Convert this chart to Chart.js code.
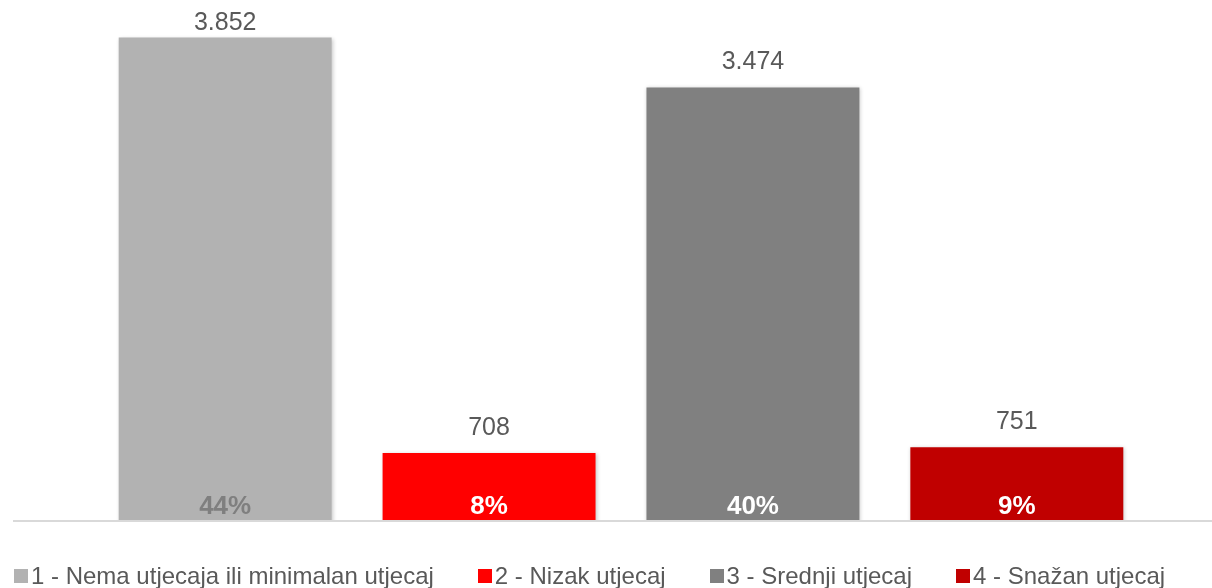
<!DOCTYPE html>
<html>
<head>
<meta charset="utf-8">
<script src="https://cdn.jsdelivr.net/npm/chart.js@4.4.1/dist/chart.umd.min.js"></script>
<style>
    html, body { margin: 0; padding: 0; background: #fff; }
    #wrap { position: relative; width: 1212px; height: 588px; }
    #legend {
        position: absolute; left: 14px; top: 562px;
        display: flex; gap: 44px; align-items: center;
        font-family: 'Liberation Sans', Arial, sans-serif; font-size: 24px; color: #595959;
        white-space: nowrap;
    }
    #legend .item { display: flex; align-items: center; }
    #legend .box { width: 14px; height: 14px; margin-right: 3px; }
</style>
</head>
<body>
<div id="wrap">
    <canvas id="grafico" width="1212" height="588"></canvas>
    <div id="legend"></div>
</div>
<script>
const categories = ['1 - Nema utjecaja ili minimalan utjecaj', '2 - Nizak utjecaj', '3 - Srednji utjecaj', '4 - Snažan utjecaj'];
const counts = [3852, 708, 3474, 751];
const shares = [44, 8, 40, 9];
const barColors = ['#B2B2B2', '#FF0000', '#808080', '#C00000'];
const shareColors = ['#7F7F7F', '#FFFFFF', '#FFFFFF', '#FFFFFF'];

const fmt = (n) => String(n).replace(/\B(?=(\d{3})+(?!\d))/g, '.');

// baseline (axis line) + bar shadows + labels
const barExtras = {
    id: 'barExtras',
    beforeDatasetsDraw(chart) {
        const ctx = chart.ctx;
        ctx.save();
        ctx.shadowColor = 'rgba(0,0,0,0.22)';
        ctx.shadowBlur = 4;
        ctx.shadowOffsetX = 1;
        ctx.shadowOffsetY = 1;
    },
    afterDatasetsDraw(chart) {
        const ctx = chart.ctx;
        ctx.restore();
        const area = chart.chartArea;

        ctx.save();
        ctx.strokeStyle = '#D9D9D9';
        ctx.lineWidth = 2;
        ctx.beginPath();
        ctx.moveTo(13, area.bottom + 1);
        ctx.lineTo(area.right, area.bottom + 1);
        ctx.stroke();

        ctx.textAlign = 'center';
        ctx.textBaseline = 'alphabetic';
        chart.data.datasets.forEach((ds, i) => {
            const bar = chart.getDatasetMeta(i).data[0];
            ctx.font = '25px "Liberation Sans", Arial, sans-serif';
            ctx.fillStyle = '#595959';
            const yv = Math.max(bar.y - 18, area.top + 12);
            ctx.fillText(fmt(counts[i]), bar.x, yv);

            ctx.font = 'bold 26px "Liberation Sans", Arial, sans-serif';
            ctx.fillStyle = shareColors[i];
            ctx.fillText(shares[i] + '%', bar.x, area.bottom - 6);
        });
        ctx.restore();
    }
};

const ctx1 = document.getElementById('grafico').getContext('2d');

const grafico = new Chart(ctx1, {
    type: 'bar',
    data: {
        labels: [''],
        datasets: categories.map((name, i) => ({
            label: name,
            data: [counts[i]],
            backgroundColor: barColors[i],
            categoryPercentage: 0.893,
            barPercentage: 0.807
        }))
    },
    options: {
        responsive: false,
        animation: false,
        layout: {
            padding: { left: 30, right: 0, top: 18, bottom: 68 }
        },
        plugins: {
            legend: { display: false },
            tooltip: { enabled: false }
        },
        scales: {
            x: { display: false, grid: { display: false } },
            y: { display: false, min: 200, max: 4000, grid: { display: false } }
        }
    },
    plugins: [barExtras]
});

const legendEl = document.getElementById('legend');
grafico.data.datasets.forEach((ds) => {
    const item = document.createElement('div');
    item.className = 'item';
    const box = document.createElement('span');
    box.className = 'box';
    box.style.background = ds.backgroundColor;
    const txt = document.createElement('span');
    txt.textContent = ds.label;
    item.appendChild(box);
    item.appendChild(txt);
    legendEl.appendChild(item);
});
</script>
</body>
</html>
